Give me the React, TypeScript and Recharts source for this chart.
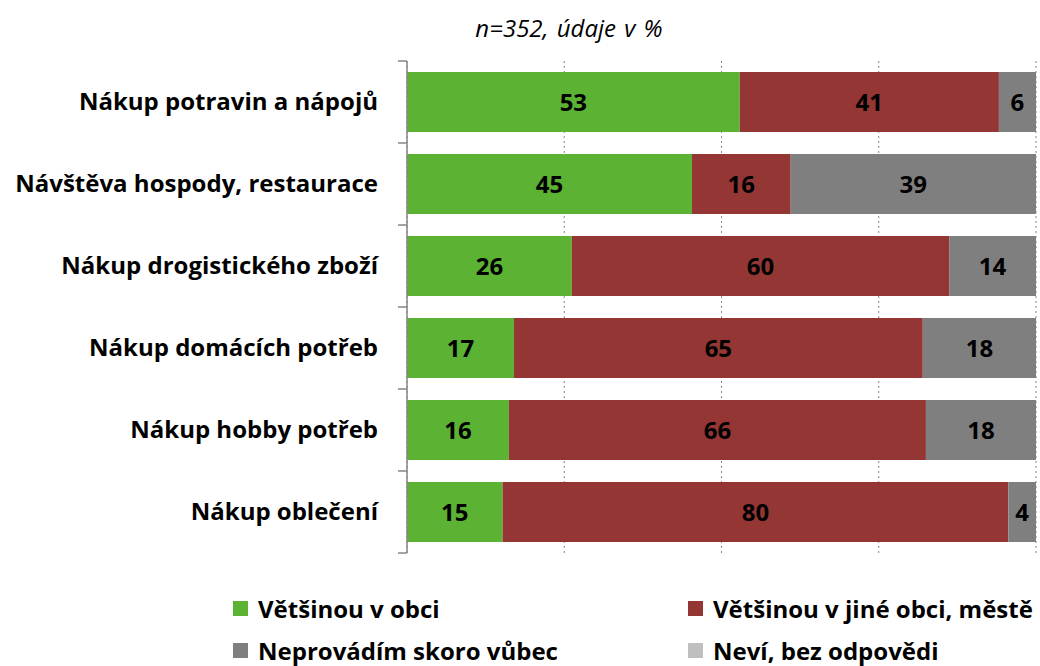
import React from 'react';
import { BarChart, Bar, XAxis, YAxis, CartesianGrid, LabelList, Legend } from 'recharts';

const categories = [
  'Nákup potravin a nápojů',
  'Návštěva hospody, restaurace',
  'Nákup drogistického zboží',
  'Nákup domácích potřeb',
  'Nákup hobby potřeb',
  'Nákup oblečení',
];
const vObci = [52.9, 45.3, 26.2, 17.0, 16.2, 15.2];
const vJineObci = [41.2, 15.7, 60.0, 65.0, 66.3, 80.4];
const neprovadim = [5.9, 39.0, 13.8, 18.0, 17.5, 4.4];
const nevi = [0, 0, 0, 0, 0, 0];
const xTicks = [0, 25, 50, 75, 100];

const seriesNames = ['Většinou v obci', 'Většinou v jiné obci, městě', 'Neprovádím skoro vůbec', 'Neví, bez odpovědi'];
const seriesColors = ['#5BB233', '#943634', '#7F7F7F', '#BFBFBF'];

const data = categories.map((c, i) => ({
  name: c,
  a: vObci[i],
  b: vJineObci[i],
  c: neprovadim[i],
  d: nevi[i],
}));

const FONT = '"Open Sans", Lato, sans-serif';
const W = 1040;
const H = 666;
const M = { top: 61, right: 4, bottom: 113, left: 0 };
const band = (H - M.top - M.bottom) / categories.length;

const CatTick = (props: any) => {
  const { x, y, payload, index } = props;
  const ax = x + 29;
  return (
    <g>
      <line x1={ax - 9} x2={ax} y1={y - band / 2} y2={y - band / 2} stroke="#868686" strokeWidth={1.5} />
      {index === categories.length - 1 && (
        <line x1={ax - 9} x2={ax} y1={y + band / 2} y2={y + band / 2} stroke="#868686" strokeWidth={1.5} />
      )}
      <text x={x} y={y} dy={8} textAnchor="end" fontFamily={FONT} fontWeight={700} fontSize={24} fill="#000">
        {payload.value}
      </text>
    </g>
  );
};

const fmt = (v: any) => (v > 0.5 ? Math.round(v) : '');

const LegendContent = () => {
  const pos = [
    { left: 233, top: 608 },
    { left: 688, top: 608 },
    { left: 233, top: 650 },
    { left: 688, top: 650 },
  ];
  return (
    <div style={{ position: 'relative', width: W, height: 0 }}>
      {seriesNames.map((n, i) => (
        <div
          key={n}
          style={{
            position: 'absolute',
            left: pos[i].left,
            top: pos[i].top - (H - M.bottom) - 17,
            height: 34,
            display: 'flex',
            alignItems: 'center',
            fontFamily: FONT,
            fontWeight: 700,
            fontSize: 24,
            color: '#000',
            whiteSpace: 'nowrap',
          }}
        >
          <span style={{ display: 'inline-block', width: 15, height: 15, background: seriesColors[i], marginRight: 10 }} />
          {n}
        </div>
      ))}
    </div>
  );
};

export default function App() {
  return (
    <div style={{ position: 'absolute', left: 0, top: 0, width: W, height: H, background: '#fff' }}>
      <div
        style={{
          position: 'absolute',
          left: 369,
          width: 400,
          top: 12,
          textAlign: 'center',
          fontFamily: FONT,
          fontStyle: 'italic',
          fontSize: 24,
          lineHeight: '32px',
          wordSpacing: 2,
          color: '#000',
        }}
      >
        n=352, údaje v %
      </div>
      <BarChart
        width={W}
        height={H}
        data={data}
        layout="vertical"
        margin={M}
        barCategoryGap={11}
      >
        <CartesianGrid horizontal={false} vertical stroke="#868686" strokeDasharray="2 3" />
        <XAxis type="number" domain={[0, 100]} ticks={xTicks} hide allowDataOverflow />
        <YAxis
          type="category"
          dataKey="name"
          width={407}
          axisLine={{ stroke: '#868686', strokeWidth: 1.5 }}
          tickLine={false}
          tick={<CatTick />}
          tickMargin={23}
          interval={0}
        />
        <Legend verticalAlign="bottom" content={<LegendContent />} />
        {(['a', 'b', 'c', 'd'] as const).map((k, i) => (
          <Bar key={k} dataKey={k} name={seriesNames[i]} stackId="s" fill={seriesColors[i]} isAnimationActive={false}>
            <LabelList dataKey={k} position="center" formatter={fmt} fill="#000" fontFamily={FONT} fontWeight={700} fontSize={24} />
          </Bar>
        ))}
      </BarChart>
    </div>
  );
}
